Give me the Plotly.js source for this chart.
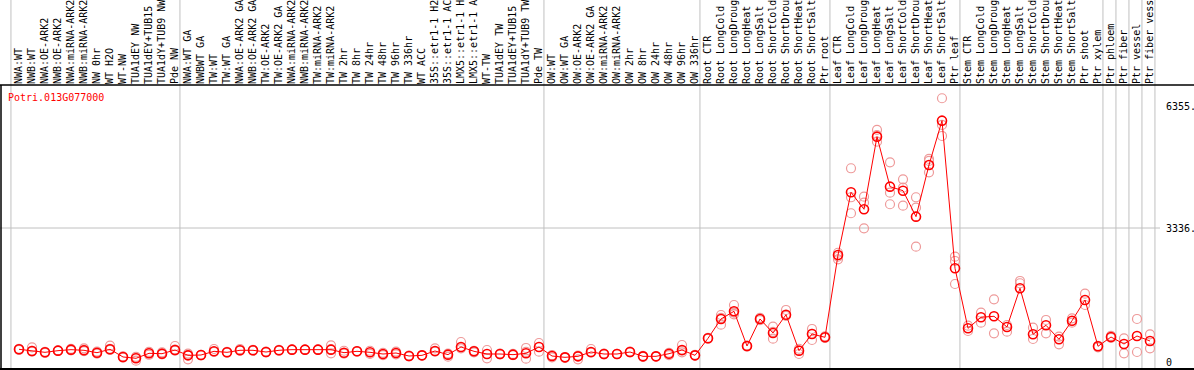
<!DOCTYPE html>
<html><head><meta charset="utf-8">
<script src="https://cdn.plot.ly/plotly-3.0.1.min.js"></script>
<style>html,body{margin:0;padding:0;background:#fff}#chart{width:1194px;height:370px}</style>
</head><body><div id="chart"></div>
<script>
const geneId = "Potri.013G077000";
const categories = [
  "NWA:WT","NWB:WT","NWA:OE-ARK2","NWB:OE-ARK2","NWA:miRNA-ARK2","NWB:miRNA-ARK2","NW 0hr","WT H2O","WT-NW","TUA1dEY NW","TUA1dEY+TUB15 NW","TUA1dY+TUB9 NW","Pde NW",
  "NWA:WT GA","NWBWT GA","TW:WT","TW:WT GA","NWA:OE-ARK2 GA","NWB:OE-ARK2 GA","TW:OE-ARK2","TW:OE-ARK2 GA","NWA:miRNA-ARK2 GA","NWB:miRNA-ARK2 GA","TW:miRNA-ARK2","TW:miRNA-ARK2 GA","TW 2hr","TW 8hr","TW 24hr","TW 48hr","TW 96hr","TW 336hr","WT ACC","35S::etr1-1 H2O","35S::etr1-1 ACC","LMX5::etr1-1 H2O","LMX5::etr1-1 ACC","WT-TW","TUA1dEY TW","TUA1dEY+TUB15 TW","TUA1dY+TUB9 TW","Pde TW",
  "OW:WT","OW:WT GA","OW:OE-ARK2","OW:OE-ARK2 GA","OW:miRNA-ARK2","OW:miRNA-ARK2 GA","OW 2hr","OW 8hr","OW 24hr","OW 48hr","OW 96hr","OW 336hr",
  "Root CTR","Root LongCold","Root LongDrought","Root LongHeat","Root LongSalt","Root ShortCold","Root ShortDrought","Root ShortHeat","Root ShortSalt","Ptr root",
  "Leaf CTR","Leaf LongCold","Leaf LongDrought","Leaf LongHeat","Leaf LongSalt","Leaf ShortCold","Leaf ShortDrought","Leaf ShortHeat","Leaf ShortSalt","Ptr leaf",
  "Stem CTR","Stem LongCold","Stem LongDrought","Stem LongHeat","Stem LongSalt","Stem ShortCold","Stem ShortDrought","Stem ShortHeat","Stem ShortSalt","Ptr shoot",
  "Ptr xylem","Ptr phloem","Ptr fiber","Ptr vessel","Ptr fiber vessel"
];
const means = [
  316,274,241,282,307,291,232,316,125,92,216,207,299,
  166,174,266,241,291,291,249,291,307,307,307,307,232,266,241,199,224,149,166,274,183,374,266,199,199,183,216,374,
  149,116,141,249,199,199,249,141,141,207,299,166,
  590,1071,1262,398,1071,722,1178,282,697,615,
  2664,4225,3802,5610,4365,4265,3618,4905,6008,2333,
  839,1113,1138,872,1835,690,914,565,1028,1544,
  391,622,448,647,523
];
const replicates = [
  [330,300,316],[366,260,280],[255,225],[290,275],[330,290],[340,270,300],[210,260],[406,300,330],[140,110],[32,110,130],[250,180,230],[190,240,220],[398,280,310],
  [67,180,210],[180,165],[324,250],[250,230],[320,280],[300,285],[240,260],[300,280],[315,300],[310,300],[300,315],[416,216,320],[280,210],[270,260],[200,280],[230,170],[260,190],[160,140],[170,160],[341,260],[133,210],[498,340],[280,250,240],[299,92],[210,190],[170,200],[349,83,250],[473,257],
  [170,116],[125,105],[67,160],[324,230],[210,190],[195,205],[260,240],[150,130],[145,135],[230,170],[423,240,280],[160,175],
  [600,580],[1170,929,1100],[1419,1187,1230],[410,380],[1100,1040],[879,581,750],[1295,1150],[199,330],[822,548,700],[640,600],
  [2557,2720,2620],[4823,3703,4101],[4116,3329,3967],[5777,5486,5650],[4972,4216,3927],[4549,3892,4340],[4101,3842,2871],[5055,4723,5005],[6566,5627,5901],[2622,2515,1942],
  [772,904],[1228,979],[1561,715],[921,755],[2017,1960],[854,573],[1046,715],[630,441],[1088,980],[1701,1419],
  [366,400],[650,600],[590,216],[1071,249],[690,341]
];
const groupSizes = [13,28,12,10,10,11,1,1,1,1];
const yTickVals = [0,3336,6355];
const yTickText = ["0","3336.","6355."];
const gridVals = [3336];

const W = 1194, H = 370, T = 85, B = 1;
const idx = categories.map((_, i) => i);
const repX = [], repY = [];
replicates.forEach((r, i) => r.forEach(v => { repX.push(i); repY.push(v); }));

const step = 13, first = 19;
const xr0 = -first / step, xr1 = xr0 + W / step;
const zeroPx = 362, pxPerUnit = (362 - 228) / 3336;
const yr0 = -(H - B - zeroPx) / pxPerUnit, yr1 = (zeroPx - T) / pxPerUnit;
const plotH = H - T - B;

const shapes = [];
let b = -0.5;
const bounds = [b];
groupSizes.forEach(g => { b += g; bounds.push(b); });
bounds.forEach(v => shapes.push({type:'line', xref:'x', yref:'paper', x0:v-0.12, x1:v-0.12, y0:0, y1:1 + T/plotH, line:{color:'#c0c0c0', width:1}, layer:'below'}));
gridVals.forEach(v => shapes.push({type:'line', xref:'paper', yref:'y', x0:0, x1:1160/W, y0:v, y1:v, line:{color:'#c0c0c0', width:1}, layer:'below'}));
shapes.push({type:'line', xref:'paper', yref:'paper', x0:0, x1:1, y0:1, y1:1, line:{color:'#000', width:1.5}});
shapes.push({type:'line', xref:'paper', yref:'paper', x0:0, x1:1, y0:0, y1:0, line:{color:'#000', width:2}});
shapes.push({type:'line', xref:'paper', yref:'paper', x0:1/W, x1:1/W, y0:0, y1:1, line:{color:'#000', width:1.5}});

const mono = '"DejaVu Sans Mono", "Liberation Mono", monospace';
const annotations = yTickVals.map((v, k) => ({
  xref:'paper', yref:'y', x:1164/W, y:v, xanchor:'left', yanchor:'middle',
  text:yTickText[k], showarrow:false, font:{family:mono, size:10, color:'#000'}
}));

const data = [
  {x:repX, y:repY, type:'scatter', mode:'markers', hoverinfo:'skip',
   marker:{symbol:'circle-open', size:9, color:'#ee9a9a', line:{width:1.2, color:'#ee9a9a'}}},
  {x:idx, y:means, type:'scatter', mode:'lines+markers', text:categories,
   line:{color:'#ff0000', width:1},
   marker:{symbol:'circle-open', size:9, color:'#ff0000', line:{width:1.6, color:'#ff0000'}}}
];

const layout = {
  width:W, height:H, showlegend:false,
  paper_bgcolor:'#fff', plot_bgcolor:'#fff',
  margin:{l:0, r:0, t:T, b:B, pad:0},
  title:{text:geneId, x:8/W, xanchor:'left', xref:'paper', y:1 - 97/H, yref:'container', yanchor:'middle',
         font:{family:mono, size:10, color:'#ff0000'}},
  xaxis:{range:[xr0, xr1], side:'top', tickmode:'array', tickvals:idx, ticktext:categories,
         tickangle:-90, tickfont:{family:mono, size:10, color:'#000'}, ticks:'', showgrid:false,
         zeroline:false, showline:false, automargin:false, fixedrange:true},
  yaxis:{range:[yr0, yr1], showticklabels:false, showgrid:false, zeroline:false, ticks:'',
         showline:false, automargin:false, fixedrange:true},
  shapes:shapes, annotations:annotations
};
Plotly.newPlot('chart', data, layout, {displayModeBar:false, staticPlot:true});
</script></body></html>
